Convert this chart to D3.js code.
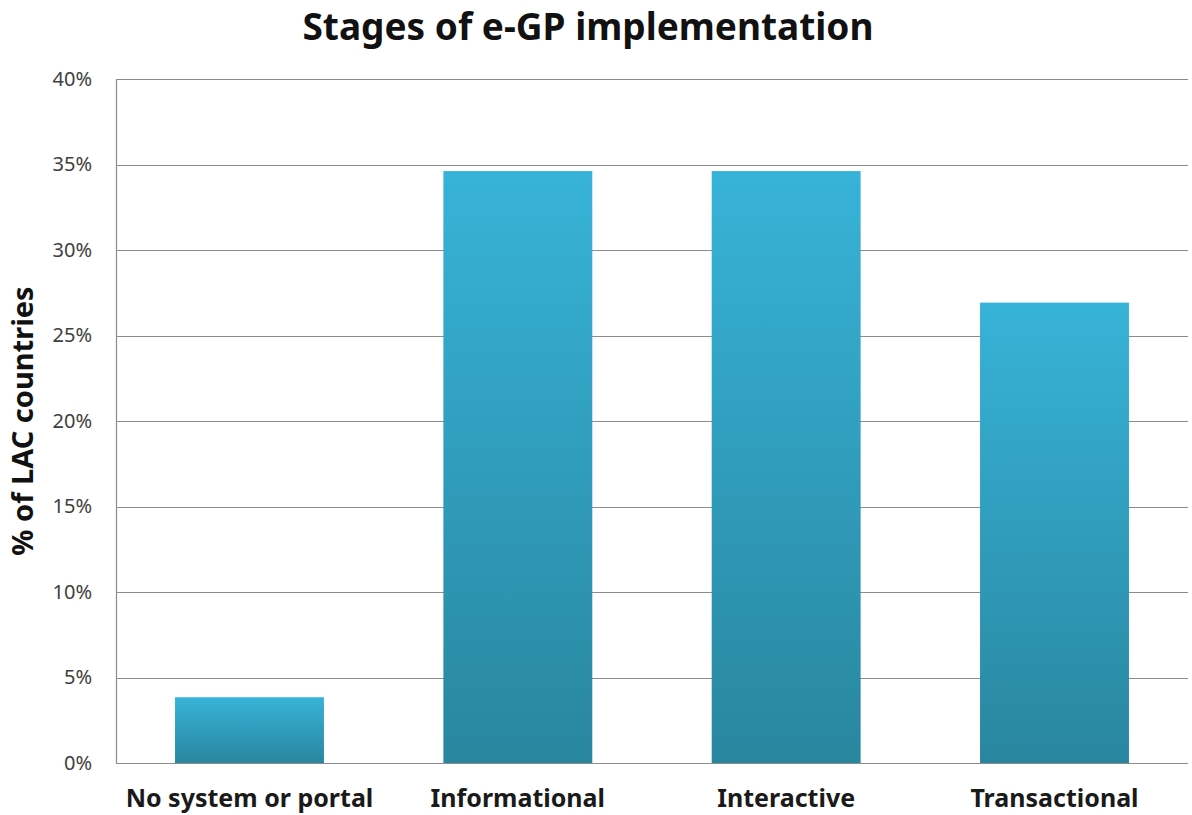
<!DOCTYPE html>
<html>
<head>
<meta charset="utf-8">
<script src="https://cdn.jsdelivr.net/npm/d3@7"></script>
<style>
  body { margin: 0; background: #fff; }
  svg { display: block; font-family: "Noto Sans", "Open Sans", sans-serif; }
</style>
</head>
<body>
<div id="chart"></div>
<script>
const categories = ["No system or portal", "Informational", "Interactive", "Transactional"];
const values = [1 / 26, 9 / 26, 9 / 26, 7 / 26];
const yTicks = [0, 0.05, 0.10, 0.15, 0.20, 0.25, 0.30, 0.35, 0.40];

const width = 1192,
    height = 815,
    margin = { top: 79, right: 4, bottom: 52, left: 116 };

const svg = d3.select("#chart").append("svg")
    .attr("width", width)
    .attr("height", height);

// each bar gets its own light-to-dark gradient
const grad = svg.append("defs").append("linearGradient")
    .attr("id", "barGrad")
    .attr("x1", 0).attr("x2", 0)
    .attr("y1", 0).attr("y2", 1);
grad.append("stop").attr("offset", "0%").attr("stop-color", "#37b3d8");
grad.append("stop").attr("offset", "100%").attr("stop-color", "#29869f");

const x = d3.scaleBand()
    .domain(categories)
    .range([margin.left, width - margin.right])
    .paddingInner(0.445)
    .paddingOuter(0.22);

const y = d3.scaleLinear()
    .domain([0, 0.40])
    .range([height - margin.bottom, margin.top]);

// grid lines
svg.append("g")
    .selectAll("line")
    .data(yTicks)
    .join("line")
    .attr("x1", margin.left)
    .attr("x2", width - margin.right)
    .attr("y1", d => Math.round(y(d)) + 0.5)
    .attr("y2", d => Math.round(y(d)) + 0.5)
    .attr("stroke", "#8c8c8c")
    .attr("stroke-width", 1.2);

// y axis
const yAxis = svg.append("g")
    .attr("transform", `translate(${margin.left},0)`)
    .call(d3.axisLeft(y).tickValues(yTicks).tickFormat(d3.format(".0%")).tickSize(0).tickPadding(24));
yAxis.select(".domain").attr("stroke", "#8c8c8c").attr("stroke-width", 1.2);
yAxis.selectAll("text")
    .attr("font-size", 20)
    .attr("fill", "#404040")
    .attr("font-family", "'Noto Sans', sans-serif");

// bars
svg.append("g")
    .selectAll("rect")
    .data(values)
    .join("rect")
    .attr("x", (d, i) => x(categories[i]))
    .attr("y", d => y(d))
    .attr("width", x.bandwidth())
    .attr("height", d => y(0) - y(d))
    .attr("fill", "url(#barGrad)");

// x axis labels
const xAxis = svg.append("g")
    .attr("transform", `translate(0,${height - margin.bottom})`)
    .call(d3.axisBottom(x).tickSize(0).tickPadding(26));
xAxis.select(".domain").remove();
xAxis.selectAll("text")
    .attr("font-size", 25)
    .attr("font-weight", "bold")
    .attr("fill", "#1a1a1a")
    .attr("font-family", "'Noto Sans', sans-serif");

// title
svg.append("text")
    .attr("x", 588)
    .attr("y", 40)
    .attr("text-anchor", "middle")
    .attr("font-size", 37)
    .attr("font-weight", "bold")
    .attr("fill", "#111")
    .text("Stages of e-GP implementation");

// y label
svg.append("text")
    .attr("transform", `translate(33,${(margin.top + height - margin.bottom) / 2}) rotate(-90)`)
    .attr("text-anchor", "middle")
    .attr("font-size", 29)
    .attr("font-weight", "bold")
    .attr("fill", "#111")
    .text("% of LAC countries");
</script>
</body>
</html>
